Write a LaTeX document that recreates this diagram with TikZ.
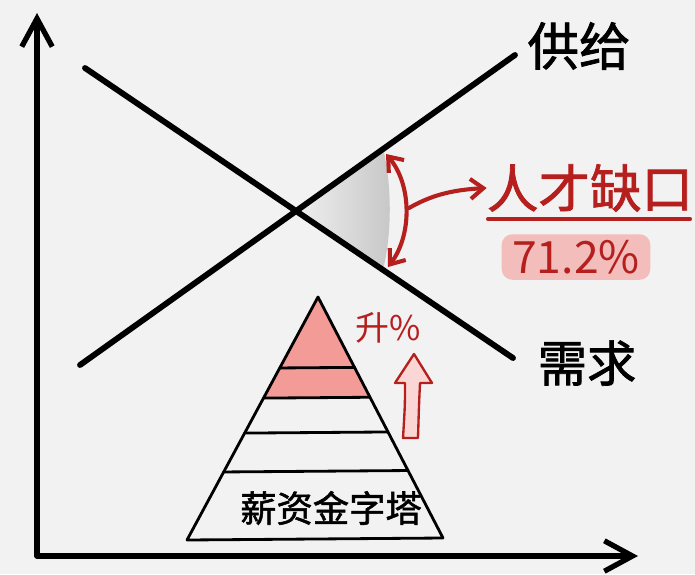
\documentclass[tikz,border=0pt]{standalone}
\usepackage{fontspec}
\newfontfamily\cjk{Noto Sans CJK SC}[AutoFakeBold=1.5]
\usetikzlibrary{arrows.meta, calc, intersections, positioning}
\definecolor{paper}{HTML}{F2F2F2}
\definecolor{inkred}{HTML}{B5201F}
\definecolor{pinkfill}{HTML}{F29B97}

\begin{document}
\begin{tikzpicture}[x=0.03cm, y=-0.03cm,
    axis/.style={line width=4.5pt, line cap=round,
      -{Straight Barb[length=24pt, width=26pt, line width=4.5pt]}},
    marketline/.style={line width=5pt, line cap=round},
    layer/.style={line width=2.4pt, line cap=round},
    redarrow/.style={inkred, line width=3.5pt, line cap=round},
    redtip/.tip={Straight Barb[length=11pt, width=17pt, line width=3.5pt]},
    bigtext/.style={font=\cjk\bfseries\fontsize{44}{46}\selectfont, inner sep=0pt}]
    % paper
    \fill[paper] (0,0) rectangle (695,574);
    \useasboundingbox (0,0) rectangle (695,574);

    % end points
    \coordinate (origin) at (37,556);
    \coordinate (ytop)   at (37,13);
    \coordinate (xend)   at (638,556);
    \coordinate (s0) at (80,365);
    \coordinate (s1) at (515,55);
    \coordinate (d0) at (85,68);
    \coordinate (d1) at (513,358);
    \path[name path=supplyline] (s0) -- (s1);
    \path[name path=demandline] (d0) -- (d1);
    \path[name intersections={of=supplyline and demandline, by=cross}];

    % shaded gap
    \coordinate (gapS) at ($(s0)!0.697!(s1)$);
    \coordinate (gapD) at ($(d0)!0.696!(d1)$);
    \shade[left color=black!6, right color=black!22]
        (cross) -- (gapS) .. controls (392,185) and (392,235) .. (gapD) -- cycle;

    % axes and curves
    \draw[axis] (origin) -- (ytop);
    \draw[axis] (origin) -- (xend);
    \draw[marketline] (s0) -- (s1);
    \draw[marketline] (d0) -- (d1);

    % labels of the curves
    \node[bigtext] (supply) at (579,46) {供给};
    \node[bigtext, font=\cjk\bfseries\fontsize{42}{44}\selectfont] (demand) at (587,363) {需求};

    % gap marker
    \coordinate (gaptop) at (386,154);
    \coordinate (gapbot) at (388,267);
    \coordinate (gapmid) at (409,208);
    \draw[redarrow, redtip-redtip]
        (gaptop) .. controls (412,185) and (412,235) .. (gapbot);
    \node[bigtext, text=inkred] (gap) at (590,188) {人才缺口};
    \draw[redarrow, -redtip]
        (gapmid) .. controls (430,196) and (450,190) .. (gap.west);
    \coordinate (uline0) at (488,219);
    \coordinate (uline1) at (690,219);
    \draw[inkred, line width=3.5pt, line cap=round] (uline0) -- (uline1);
    \node[fill=pinkfill, fill opacity=0.6, text opacity=1, text=inkred,
        rounded corners=9pt, inner xsep=9pt, inner ysep=5pt,
        font=\cjk\fontsize{38}{40}\selectfont] (rate) at (576,257) {71.2\%};

    % pyramid
    \coordinate (apex)  at (318,297);
    \coordinate (baseL) at (187,540);
    \coordinate (baseR) at (443,538);
    \fill[pinkfill] (apex) -- ($(apex)!0.416!(baseL)$) -- ($(apex)!0.416!(baseR)$) -- cycle;
    \foreach \t in {0.292, 0.416, 0.560, 0.720}
        \draw[layer] ($(apex)!\t!(baseL)$) -- ($(apex)!\t!(baseR)$);
    \draw[layer, line join=round] (apex) -- (baseL) -- (baseR) -- cycle;
    \node[bigtext, font=\cjk\bfseries\fontsize{31}{33}\selectfont] (pyramid) at (331,508) {薪资金字塔};

    % rising arrow
    \node[bigtext, text=inkred, font=\cjk\fontsize{29}{31}\selectfont] (rise) at (388,328) {升\%};
    \draw[inkred, line width=2pt, fill=pinkfill!40, line join=round]
        (414,354) -- (432,383) -- (420,383) .. controls (419,405) .. (418,438)
        -- (403,438) .. controls (405,405) .. (405,383) -- (395,383) -- cycle;
\end{tikzpicture}
\end{document}
